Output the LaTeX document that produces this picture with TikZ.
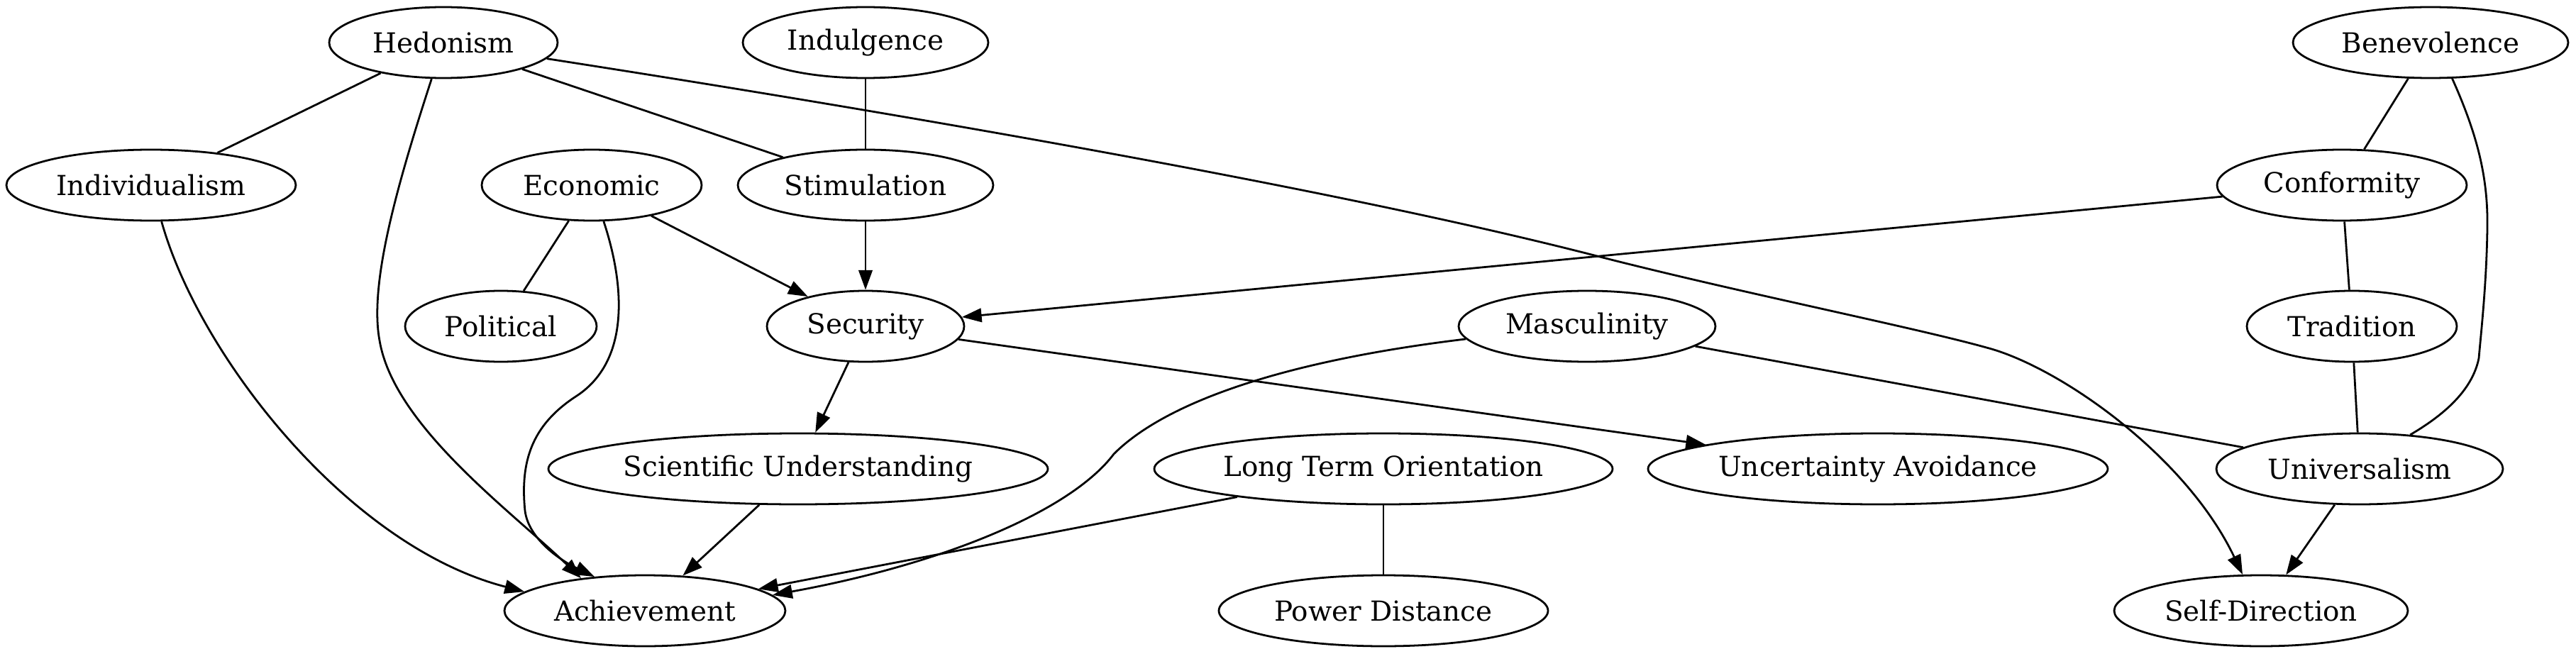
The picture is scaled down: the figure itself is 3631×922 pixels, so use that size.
\documentclass[tikz,border=0pt]{standalone}
\usepackage{fontspec}
\setmainfont{DejaVu Serif}
\usetikzlibrary{shapes.geometric,arrows.meta}
\begin{document}
\begin{tikzpicture}[x=0.36pt,y=-0.36pt,
  nd/.style={ellipse,draw,line width=1pt,inner sep=0pt,minimum height=36pt,minimum width=#1*0.72pt,font=\fontsize{14}{16}\selectfont},
  ed/.style={line width=1pt},
  ar/.style={line width=1pt,-{Triangle[length=10pt,width=7pt]}}]
\useasboundingbox (0,0) rectangle (3631,922);
\node[nd=161] (hed) at (625,60) {Hedonism};
\node[nd=173] (indu) at (1220,60) {Indulgence};
\node[nd=194] (ben) at (3426,60) {Benevolence};
\node[nd=204] (indi) at (213,261) {Individualism};
\node[nd=155] (eco) at (834,261) {Economic};
\node[nd=180] (sti) at (1220,261) {Stimulation};
\node[nd=176] (con) at (3301,261) {Conformity};
\node[nd=135] (pol) at (706,460) {Political};
\node[nd=139] (sec) at (1220,460) {Security};
\node[nd=181] (mas) at (2237,460) {Masculinity};
\node[nd=148] (tra) at (3315,460) {Tradition};
\node[nd=352] (sci) at (1125,661) {Scientific Understanding};
\node[nd=323] (lto) at (1950,661) {Long Term Orientation};
\node[nd=324] (ua) at (2647,661) {Uncertainty Avoidance};
\node[nd=202] (uni) at (3326,661) {Universalism};
\node[nd=198] (ach) at (909,861) {Achievement};
\node[nd=232] (pd) at (1950,861) {Power Distance};
\node[nd=207] (sd) at (3187,861) {Self-Direction};

\draw[ed] (hed) -- (indi);
\draw[ed] (hed) -- (sti);
\draw[ed] (indu) -- (sti);
\draw[ar] (sti) -- (sec);
\draw[ed] (eco) -- (pol);
\draw[ar] (eco) -- (sec);
\draw[ar] (hed) .. controls (560,260) and (520,400) .. (535,480) .. controls (555,600) and (720,720) .. (ach.153);
\draw[ar] (hed) .. controls (1300,165) and (1900,270) .. (2255,362) .. controls (2450,412) and (2700,462) .. (2800,490) .. controls (2900,516) and (3080,640) .. (sd.117);
\draw[ar] (eco) .. controls (880,400) and (890,510) .. (810,560) .. controls (750,600) and (733,650) .. (740,720) .. controls (745,760) and (790,790) .. (ach.146);
\draw[ar] (indi.-74) .. controls (280,500) and (490,770) .. (ach.171);
\draw[ar] (mas.186) .. controls (1800,510) and (1640,570) .. (1570,640) .. controls (1510,720) and (1330,795) .. (ach.7);
\draw[ar] (sec) -- (sci);
\draw[ar] (sec) -- (ua);
\draw[ar] (sci) -- (ach);
\draw[ar] (lto) -- (ach);
\draw[ed] (lto) -- (pd);
\draw[ed] (ben) -- (con);
\draw[ed] (ben.-59) .. controls (3492,190) and (3507,250) .. (3506,320) .. controls (3505,400) and (3497,470) .. (3494,505) .. controls (3485,550) and (3445,585) .. (uni.34);
\draw[ar] (con) -- (sec);
\draw[ed] (con) -- (tra);
\draw[ed] (tra) -- (uni);
\draw[ed] (mas) -- (uni);
\draw[ar] (uni) -- (sd);
\end{tikzpicture}
\end{document}
